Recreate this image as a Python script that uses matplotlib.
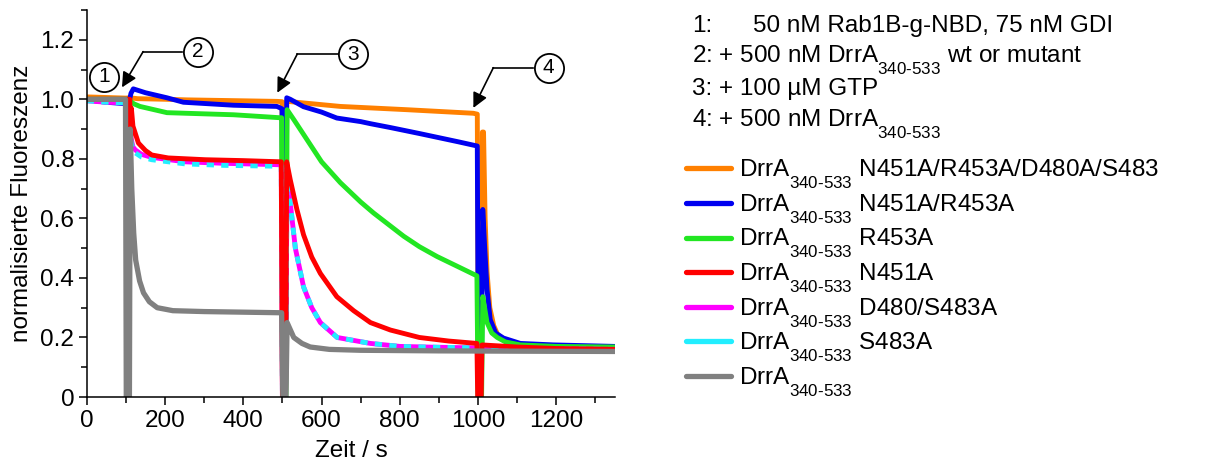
import matplotlib
matplotlib.use("Agg")
import matplotlib.pyplot as plt
from matplotlib.lines import Line2D
from matplotlib.ticker import MultipleLocator, FuncFormatter

plt.rcParams["font.family"] = ["Liberation Sans", "DejaVu Sans"]
plt.rcParams["mathtext.fontset"] = "custom"
plt.rcParams["mathtext.rm"] = "Liberation Sans"
plt.rcParams["mathtext.it"] = "Liberation Sans:italic"
plt.rcParams["mathtext.bf"] = "Liberation Sans:bold"
try:
    # Indizes etwas tiefer setzen, wie im Original
    import matplotlib._mathtext as _mt
    _mt.FontConstantsBase.sub1 = 0.95
except Exception:
    pass

# --- Daten ---
t_orange = [0, 50, 100, 110, 130, 200, 256, 350, 486, 499, 502, 508, 511, 520, 648, 818, 988, 998,
            1001, 1008, 1011, 1014, 1018, 1023, 1030, 1040, 1050, 1070, 1100, 1200, 1350]
y_orange = [1.008, 1.006, 1.004, 1.005, 1.002, 1.0, 0.998, 0.996, 0.993, 0.992, 0.0, 0.0, 0.995, 0.992,
            0.976, 0.965, 0.953, 0.95, 0.0, 0.0, 0.89, 0.89, 0.6, 0.42, 0.30, 0.24, 0.21, 0.19, 0.178, 0.17, 0.167]

t_blue = [0, 50, 100, 108, 113, 119, 150, 205, 247, 375, 486, 499, 502, 508, 511, 520, 554, 600, 639,
          700, 725, 776, 850, 900, 950, 998, 1001, 1008, 1012, 1017, 1023, 1031, 1045, 1065, 1108, 1193, 1350]
y_blue = [0.998, 0.99, 0.985, 0.99, 1.02, 1.035, 1.022, 1.005, 0.99, 0.98, 0.976, 0.968, 0.0, 0.0, 1.005,
          1.0, 0.975, 0.957, 0.937, 0.925, 0.918, 0.905, 0.885, 0.871, 0.857, 0.843, 0.0, 0.0, 0.63, 0.5,
          0.36, 0.26, 0.215, 0.198, 0.18, 0.175, 0.17]

t_green = [0, 50, 100, 105, 110, 120, 136, 205, 375, 494, 498, 501, 509, 512, 530, 563, 600, 648, 700,
           733, 810, 850, 895, 950, 997, 1000, 1009, 1012, 1023, 1035, 1049, 1070, 1108, 1200, 1350]
y_green = [1.0, 1.0, 1.0, 1.0, 0.995, 0.985, 0.976, 0.955, 0.948, 0.938, 0.938, 0.0, 0.0, 0.965, 0.93,
           0.864, 0.79, 0.72, 0.655, 0.618, 0.54, 0.505, 0.472, 0.437, 0.407, 0.0, 0.0, 0.337, 0.25,
           0.215, 0.20, 0.185, 0.175, 0.17, 0.168]

t_red = [0, 50, 100, 110, 112, 114, 118, 132, 150, 166, 208, 303, 400, 497, 500, 508, 511, 520, 537,
         554, 575, 597, 639, 682, 725, 776, 850, 925, 997, 999, 1008, 1010, 1100, 1200, 1350]
y_red = [1.0, 1.0, 1.0, 1.0, 0.83, 0.97, 0.91, 0.853, 0.828, 0.813, 0.803, 0.797, 0.794, 0.79, 0.0, 0.0,
         0.79, 0.73, 0.63, 0.545, 0.47, 0.415, 0.337, 0.29, 0.25, 0.225, 0.20, 0.188, 0.18, 0.0, 0.0,
         0.175, 0.168, 0.163, 0.16]

t_magenta = [0, 50, 100, 104, 107, 110, 113, 118, 124, 140, 166, 251, 350, 497, 500, 508, 512, 516, 533,
             554, 575, 597, 640, 725, 800, 900, 1000, 1100, 1350]
y_magenta = [0.995, 0.99, 0.988, 0.988, 0.84, 0.93, 0.87, 0.84, 0.83, 0.815, 0.805, 0.79, 0.785, 0.78,
             0.0, 0.0, 0.77, 0.70, 0.50, 0.37, 0.30, 0.25, 0.20, 0.18, 0.17, 0.167, 0.165, 0.163, 0.16]

t_cyan = [0, 50, 100, 104, 107, 110, 113, 118, 124, 140, 166, 251, 350, 497, 500, 508, 512, 516, 533,
          554, 575, 597, 640, 725, 800, 900, 1000, 1100, 1350]
y_cyan = [0.995, 0.99, 0.988, 0.988, 0.83, 0.92, 0.86, 0.83, 0.82, 0.806, 0.797, 0.783, 0.778, 0.775,
          0.0, 0.0, 0.77, 0.70, 0.50, 0.37, 0.30, 0.25, 0.20, 0.18, 0.17, 0.167, 0.165, 0.163, 0.16]

t_gray = [0, 50, 99, 101, 109, 111, 115, 120, 125, 135, 145, 160, 180, 220, 300, 400, 498, 501, 509, 512,
          529, 550, 571, 620, 700, 900, 1100, 1350]
y_gray = [1.0, 1.0, 1.0, 0.0, 0.0, 0.9, 0.7, 0.55, 0.46, 0.39, 0.35, 0.32, 0.30, 0.29, 0.287, 0.285,
          0.283, 0.0, 0.0, 0.25, 0.20, 0.18, 0.168, 0.16, 0.157, 0.155, 0.154, 0.153]

sub = r"$_{\mathregular{340\text{-}533}}$"
mutanten = ["N451A/R453A/D480A/S483", "N451A/R453A", "R453A", "N451A", "D480/S483A", "S483A", ""]
schritte = ["1:", "2: + 500 nM DrrA" + sub + " wt or mutant", "3: + 100 µM GTP", "4: + 500 nM DrrA" + sub]
farben = ["#FF8000", "#0000F0", "#22E622", "#FF0000", "#FF00FF", "#22EEFF", "#808080"]

fig = plt.figure(figsize=(12.22, 4.63), dpi=100)
ax = fig.add_axes([0.071, 0.1425, 0.4323, 0.836])

lw = 3.5
ax.plot(t_orange, y_orange, color=farben[0], lw=lw)
ax.plot(t_blue, y_blue, color=farben[1], lw=lw)
ax.plot(t_green, y_green, color=farben[2], lw=lw)
ax.plot(t_magenta, y_magenta, color=farben[4], lw=lw)
ax.plot(t_cyan, y_cyan, color=farben[5], lw=lw, linestyle=(0, (1.5, 1.5)))
ax.plot(t_red, y_red, color=farben[3], lw=lw)
ax.plot(t_gray, y_gray, color=farben[6], lw=3.8)

ax.set_xlim(0, 1350)
ax.set_ylim(0, 1.3)
ax.spines["top"].set_visible(False)
ax.spines["right"].set_visible(False)
for s in ["left", "bottom"]:
    ax.spines[s].set_linewidth(1.1)
ax.xaxis.set_major_locator(MultipleLocator(200))
ax.xaxis.set_minor_locator(MultipleLocator(100))
ax.yaxis.set_major_locator(MultipleLocator(0.2))
ax.yaxis.set_minor_locator(MultipleLocator(0.1))
ax.yaxis.set_major_formatter(FuncFormatter(lambda v, p: "0" if abs(v) < 1e-9 else f"{v:.1f}"))
ax.tick_params(which="major", length=6, width=1.1, labelsize=17.5, pad=3)
ax.tick_params(which="minor", length=4, width=1.1)
ax.set_xlabel("Zeit / s", fontsize=17.5, labelpad=6)
ax.set_ylabel("normalisierte Fluoreszenz", fontsize=17.5, labelpad=5)

# Ereignis-Markierungen
kreise = [("1", 44, 1.076), ("2", 283, 1.16), ("3", 681, 1.152), ("4", 1180, 1.106)]
pfeile = [(244, 144, 1.16, 90, 1.04), (643, 538, 1.152, 487, 1.022), (1141, 1039, 1.106, 988, 0.971)]
for nr, x, y in kreise:
    ax.plot([x], [y], marker="o", ms=21, mfc="white", mec="black", mew=1.3, clip_on=False, zorder=5)
    ax.text(x, y, nr, fontsize=15, ha="center", va="center", zorder=6)
for x0, x1, y, xt, yt in pfeile:
    ax.plot([x0, x1], [y, y], color="black", lw=1.2, clip_on=False, zorder=4)
    ax.annotate("", xy=(xt, yt), xytext=(x1, y), annotation_clip=False,
                arrowprops=dict(arrowstyle="-|>,head_length=0.6,head_width=0.3", color="black",
                                lw=1.2, shrinkA=0, shrinkB=0, mutation_scale=15))

# Text rechts oben
basis = [32, 63, 95, 127]
for txt, b in zip(schritte, basis):
    fig.text(692 / 1222, 1 - b / 463, txt, fontsize=17.5, va="baseline", ha="left")
fig.text(753 / 1222, 1 - 32 / 463, "50 nM Rab1B-g-NBD, 75 nM GDI", fontsize=17.5, va="baseline", ha="left")

hs = [Line2D([], [], color=c, lw=3.8, solid_capstyle="round") for c in farben]
labels = ["DrrA" + sub + (" " + m if m else "") for m in mutanten]
fig.legend(hs, labels, loc="upper left", bbox_to_anchor=(686 / 1222, 1 - 158 / 463),
           frameon=False, fontsize=17.5, handlelength=1.85, handletextpad=0.35,
           labelspacing=0.05, borderpad=0, borderaxespad=0)

fig.savefig("out.png", dpi=100)
